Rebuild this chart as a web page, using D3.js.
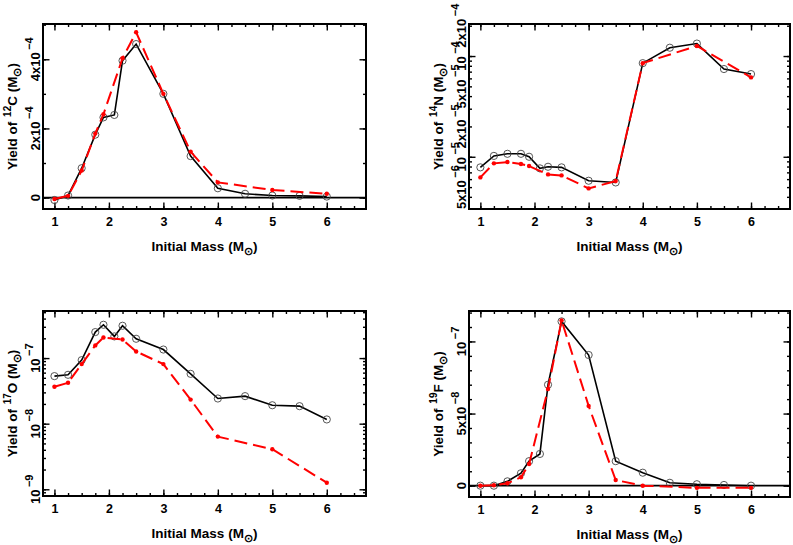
<!DOCTYPE html>
<html>
<head>
<meta charset="utf-8">
<script src="https://cdn.jsdelivr.net/npm/d3@7"></script>
<style>
body { margin: 0; background: #fff; }
text { font-family: "Liberation Sans", Arial, sans-serif; font-weight: bold; fill: #000; }
</style>
</head>
<body>
<svg id="chart" width="793" height="545"></svg>
<script>
// initial masses of the models
var masses = [1, 1.25, 1.5, 1.75, 1.9, 2.1, 2.25, 2.5, 3, 3.5, 4, 4.5, 5, 5.5, 6];
var massesRed = [1, 1.25, 1.5, 1.75, 1.9, 2.25, 2.5, 3, 3.5, 4, 5, 6];
var xTicks = [1, 2, 3, 4, 5, 6];

// 12C
var c12Black = [-0.07e-4, 0.06e-4, 0.85e-4, 1.82e-4, 2.32e-4, 2.39e-4, 3.96e-4, 4.44e-4, 3.0e-4, 1.2e-4, 0.27e-4, 0.11e-4, 0.06e-4, 0.05e-4, 0.03e-4];
var c12Red = [-0.04e-4, 0.05e-4, 0.78e-4, 1.85e-4, 2.41e-4, 4.03e-4, 4.78e-4, 3.0e-4, 1.33e-4, 0.44e-4, 0.22e-4, 0.11e-4];
var c12TickVals = [0, 2e-4, 4e-4];
var c12TickText = ["0", "2x10^{−4}", "4x10^{−4}"];

// 14N
var n14Black = [7.85e-6, 1.02e-5, 1.07e-5, 1.07e-5, 1.0e-5, 7.67e-6, 7.96e-6, 7.85e-6, 5.78e-6, 5.56e-6, 8.5e-5, 1.21e-4, 1.33e-4, 7.43e-5, 6.62e-5];
var n14Red = [6.24e-6, 8.6e-6, 8.86e-6, 8.47e-6, 8.09e-6, 6.68e-6, 6.53e-6, 4.85e-6, 5.74e-6, 8.5e-5, 1.26e-4, 6.14e-5];
var n14TickVals = [5e-6, 1e-5, 2e-5, 5e-5, 1e-4, 2e-4];
var n14TickText = ["5x10^{−6}", "10^{−5}", "2x10^{−5}", "5x10^{−5}", "10^{−4}", "2x10^{−4}"];

// 17O
var o17Black = [5.31e-8, 5.56e-8, 9.3e-8, 2.49e-7, 3.22e-7, 2.14e-7, 3.11e-7, 1.97e-7, 1.35e-7, 5.75e-8, 2.42e-8, 2.63e-8, 1.91e-8, 1.85e-8, 1.16e-8];
var o17Red = [3.65e-8, 4.2e-8, 8.1e-8, 1.56e-7, 2.06e-7, 1.92e-7, 1.26e-7, 8.1e-8, 2.33e-8, 6.35e-9, 4.08e-9, 1.26e-9];
var o17TickVals = [1e-9, 1e-8, 1e-7];
var o17TickText = ["10^{−9}", "10^{−8}", "10^{−7}"];

// 19F
var f19Black = [0, 0, 3e-9, 8.6e-9, 1.7e-8, 2.2e-8, 7.0e-8, 1.139e-7, 9.06e-8, 1.7e-8, 9e-9, 2e-9, 1e-9, 0.5e-9, 0];
var f19Red = [0, 0.3e-9, 1.7e-9, 5.8e-9, 1.5e-8, 6.7e-8, 1.146e-7, 5.53e-8, 3.9e-9, 0, -1.5e-9, -1.5e-9];
var f19TickVals = [0, 5e-8, 1e-7];
var f19TickText = ["0", "5x10^{−8}", "10^{−7}"];

var svg = d3.select("#chart");

// text with ^{..} superscripts and _{..} subscripts
function rich(sel, str, size, supGap, supScale) {
  var parts = str.split(/(\^\{[^}]*\}|_\{[^}]*\})/).filter(function(s) { return s.length; });
  var shift = 0;
  parts.forEach(function(s) {
    var target = 0, sz = size, dx = 0;
    if (s.slice(0, 2) == "^{") { target = -0.48 * size; sz = size * (supScale || 0.74); s = s.slice(2, -1); dx = supGap || 0; }
    else if (s.slice(0, 2) == "_{") { target = 0.32 * size; sz = size * 0.78; s = s.slice(2, -1); }
    sel.append("tspan").attr("dy", target - shift).attr("dx", dx).style("font-size", sz + "px").text(s);
    shift = target;
  });
}

function range(a, b, step) {
  var out = [];
  for (var v = a; v <= b + 1e-12; v += step) out.push(+v.toFixed(12));
  return out;
}

function logMinor(domain) {
  var out = [];
  for (var e = -11; e <= -2; e++) {
    for (var k = 1; k <= 9; k++) {
      var v = k * Math.pow(10, e);
      if (v >= domain[0] && v <= domain[1]) out.push(v);
    }
  }
  return out;
}

function drawPanel(p) {
  var g = svg.append("g");
  var x = d3.scaleLinear().domain([0.79, 6.72]).range([p.left, p.right]);
  var y = (p.log ? d3.scaleLog() : d3.scaleLinear()).domain(p.yDomain).range([p.bottom, p.top]);

  var xMinor = range(1, 6.5, 0.25);
  var yMinor = p.log ? logMinor(p.yDomain) : range(p.yMinorStart, p.yDomain[1], p.yMinorStep);

  function tickAxis(axisFn, scale, vals, size, transform) {
    g.append("g")
      .attr("transform", transform)
      .call(axisFn(scale).tickValues(vals).tickSize(-size).tickFormat(""))
      .call(function(a) {
        a.select(".domain").remove();
        a.selectAll("line").attr("stroke", "#000").attr("stroke-width", 1.4);
      });
  }
  tickAxis(d3.axisBottom, x, xMinor, 3, "translate(0," + p.bottom + ")");
  tickAxis(d3.axisBottom, x, xTicks, 6.5, "translate(0," + p.bottom + ")");
  tickAxis(d3.axisTop, x, xMinor, 3, "translate(0," + p.top + ")");
  tickAxis(d3.axisTop, x, xTicks, 6.5, "translate(0," + p.top + ")");
  tickAxis(d3.axisLeft, y, yMinor, 3, "translate(" + p.left + ",0)");
  tickAxis(d3.axisLeft, y, p.yMajor, 6.5, "translate(" + p.left + ",0)");
  tickAxis(d3.axisRight, y, yMinor, 3, "translate(" + p.right + ",0)");
  tickAxis(d3.axisRight, y, p.yMajor, 6.5, "translate(" + p.right + ",0)");

  // x tick labels
  var xa = g.append("g")
    .attr("transform", "translate(0," + p.bottom + ")")
    .call(d3.axisBottom(x).tickValues(xTicks).tickSize(0).tickPadding(8.5).tickFormat(d3.format("d")));
  xa.select(".domain").remove();
  xa.selectAll("text").attr("font-family", null).attr("font-size", null).style("font-size", "12.5px");

  // y tick labels (rotated)
  p.tickVals.forEach(function(v, i) {
    var t = g.append("text")
      .attr("transform", "translate(" + (p.left - 3.5) + "," + y(v) + ") rotate(-90)")
      .attr("text-anchor", "middle");
    rich(t, p.tickText[i], 13, 2.5, 0.85);
  });

  if (p.zeroLine) {
    g.append("line")
      .attr("x1", p.left).attr("x2", p.right)
      .attr("y1", y(0)).attr("y2", y(0))
      .attr("stroke", "#000").attr("stroke-width", 1.8);
  }

  var blackPts = masses.map(function(m, i) { return [m, p.black[i]]; });
  var redPts = massesRed.map(function(m, i) { return [m, p.red[i]]; });
  var line = d3.line().x(function(d) { return x(d[0]); }).y(function(d) { return y(d[1]); });

  g.append("path").datum(blackPts).attr("d", line)
    .attr("fill", "none").attr("stroke", "#000").attr("stroke-width", 1.6);
  g.selectAll(".bc").data(blackPts).enter().append("circle")
    .attr("cx", function(d) { return x(d[0]); })
    .attr("cy", function(d) { return y(d[1]); })
    .attr("r", 3.6).attr("fill", "none").attr("stroke", "#444").attr("stroke-width", 0.9);

  g.append("path").datum(redPts).attr("d", line)
    .attr("fill", "none").attr("stroke", "#f00").attr("stroke-width", 2)
    .attr("stroke-dasharray", "13,6");
  g.selectAll(".rc").data(redPts).enter().append("circle")
    .attr("cx", function(d) { return x(d[0]); })
    .attr("cy", function(d) { return y(d[1]); })
    .attr("r", 2.2).attr("fill", "#f00");

  // frame
  g.append("rect")
    .attr("x", p.left).attr("y", p.top)
    .attr("width", p.right - p.left).attr("height", p.bottom - p.top)
    .attr("fill", "none").attr("stroke", "#000").attr("stroke-width", 2);

  // titles
  var xt = g.append("text")
    .attr("x", (p.left + p.right) / 2).attr("y", p.bottom + 41.5)
    .attr("text-anchor", "middle");
  rich(xt, "Initial Mass (M_{⊙})", 13.5);

  var yt = g.append("text")
    .attr("transform", "translate(" + (p.left - 26) + "," + ((p.top + p.bottom) / 2) + ") rotate(-90)")
    .attr("text-anchor", "middle");
  rich(yt, p.yTitle, 13.5, 1);
}

var panels = [
  { left: 43, right: 366, top: 24, bottom: 209, log: false,
    yDomain: [-0.33e-4, 5.02e-4], yMajor: [0, 2e-4, 4e-4], yMinorStart: 0, yMinorStep: 1e-4,
    tickVals: c12TickVals, tickText: c12TickText, black: c12Black, red: c12Red,
    zeroLine: true, yTitle: "Yield of ^{12}C (M_{⊙})" },
  { left: 469, right: 790, top: 24, bottom: 209, log: true,
    yDomain: [3.03e-6, 2.08e-4], yMajor: [1e-5, 1e-4],
    tickVals: n14TickVals, tickText: n14TickText, black: n14Black, red: n14Red,
    zeroLine: false, yTitle: "Yield of ^{14}N (M_{⊙})" },
  { left: 43, right: 366, top: 311, bottom: 496, log: true,
    yDomain: [7.9e-10, 5.22e-7], yMajor: [1e-9, 1e-8, 1e-7],
    tickVals: o17TickVals, tickText: o17TickText, black: o17Black, red: o17Red,
    zeroLine: false, yTitle: "Yield of ^{17}O (M_{⊙})" },
  { left: 469, right: 790, top: 311, bottom: 497, log: false,
    yDomain: [-0.0785e-7, 1.211e-7], yMajor: [0, 5e-8, 1e-7], yMinorStart: 0, yMinorStep: 1e-8,
    tickVals: f19TickVals, tickText: f19TickText, black: f19Black, red: f19Red,
    zeroLine: true, yTitle: "Yield of ^{19}F (M_{⊙})" }
];

panels.forEach(drawPanel);
</script>
</body>
</html>
